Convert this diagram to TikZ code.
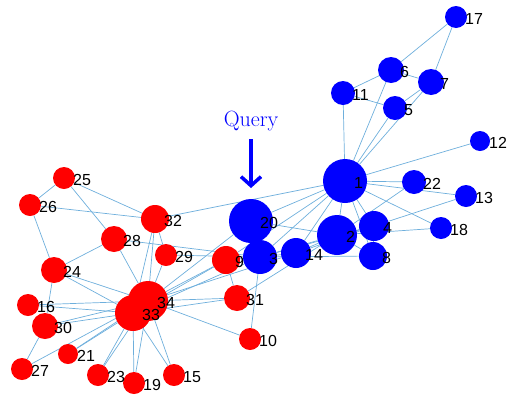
\documentclass[tikz,border=0pt]{standalone}
\usepackage{fontspec}
\newfontfamily\labfont{Liberation Sans}
\usetikzlibrary{arrows.meta}
\pgfdeclarelayer{bg}
\pgfsetlayers{bg,main}
\definecolor{edgec}{RGB}{110,175,220}
\begin{document}
\begin{tikzpicture}[x=1pt,y=-1pt,
  vert/.style={circle,inner sep=0pt,draw=none},
  blu/.style={fill=blue},
  rd/.style={fill=red},
  lab/.style={anchor=west,inner sep=0pt,font=\labfont\fontsize{16}{16}\selectfont},
  edge/.style={draw=edgec,line width=0.7pt}]
\useasboundingbox (0,0) rectangle (516,394);
\foreach \i/\x/\y/\r/\c in {
 34/148/301/20/rd, 33/133/313/18/rd, 32/155/219/14/rd, 31/237/298/13/rd,
 30/45/326/13/rd, 29/166/255/11/rd, 28/114/239/13/rd, 27/22/369/11/rd,
 26/30/205/11/rd, 25/64/178/11/rd, 24/54/270/13/rd, 23/98/375/11/rd,
 22/414/182/12/blu, 21/68/354/10/rd, 20/251/221/22/blu, 19/134/383/11/rd,
 18/441/228/11/blu, 17/456/17/11/blu, 16/28/305/11/rd, 15/174/375/11/rd,
 14/296/253/15/blu, 13/466/196/11/blu, 12/480/141/10/blu, 11/343/93/12/blu,
 10/250/339/11/rd, 9/226/260/14/rd, 8/373/256/14/blu, 7/431/82/13/blu,
 6/391/70/13/blu, 5/395/108/12/blu, 4/374/226/15/blu, 3/260/257/17/blu,
 2/337/235/20/blu, 1/345/181/22/blu}{
  \node[vert,\c,minimum size=2*\r] (n\i) at (\x,\y) {};
}
\foreach \i/\x/\y in {
 34/148/301, 33/133/313, 32/155/219, 31/237/298, 30/45/326, 29/166/255,
 28/114/239, 27/22/369, 26/30/205, 25/64/178, 24/54/270, 23/98/375,
 22/414/182, 21/68/354, 20/251/221, 19/134/383, 18/441/228, 17/456/17,
 16/28/305, 15/174/375, 14/296/253, 13/466/196, 12/480/141, 11/343/93,
 10/250/339, 9/226/260, 8/373/256, 7/431/82, 6/391/70, 5/395/108,
 4/374/226, 3/260/257, 2/337/235, 1/345/181}{
  \node[lab] (l\i) at (\x+9,\y+2) {\i};
}
\begin{pgfonlayer}{bg}
\foreach \a/\b in {
 1/2,1/3,1/4,1/5,1/6,1/7,1/8,1/9,1/11,1/12,1/13,1/14,1/18,1/20,1/22,1/32,
 2/3,2/4,2/8,2/14,2/18,2/20,2/22,2/31,
 3/4,3/8,3/9,3/10,3/14,3/28,3/29,3/33,
 4/8,4/13,4/14,5/7,5/11,6/7,6/11,6/17,7/17,
 9/31,9/33,9/34,10/34,14/34,15/33,15/34,16/33,16/34,19/33,19/34,20/34,
 21/33,21/34,23/33,23/34,24/26,24/28,24/30,24/33,24/34,25/26,25/28,25/32,
 26/32,27/30,27/34,28/34,29/32,29/34,30/33,30/34,31/33,31/34,32/33,32/34,33/34}{
  \draw[edge] (n\a) -- (n\b);
}
\end{pgfonlayer}
\node[text=blue,font=\fontsize{22}{22}\selectfont,inner sep=0pt] (q) at (251,121) {Query};
\coordinate (qtip) at (251,188);
\draw[blue,line width=3.5pt,-{Straight Barb[length=9pt,width=20pt]}] (q.south) ++(0,8) -- (qtip);
\end{tikzpicture}
\end{document}
